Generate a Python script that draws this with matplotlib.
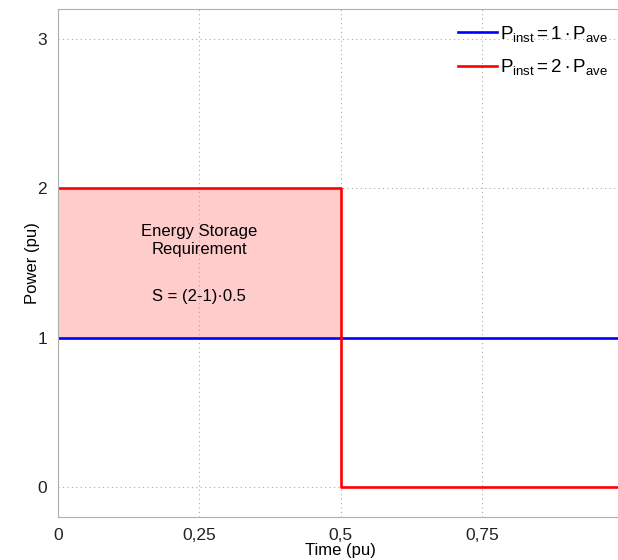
import numpy as np
import matplotlib
matplotlib.use('Agg')
import matplotlib.pyplot as plt

plt.rcParams['font.family'] = ['Liberation Sans', 'DejaVu Sans']
plt.rcParams['mathtext.fontset'] = 'custom'
plt.rcParams['mathtext.rm'] = 'Liberation Sans'
plt.rcParams['mathtext.it'] = 'Liberation Sans'

t_ave = [0, 1]
p_ave = [1, 1]
t_inst = [0, 0.5, 0.5, 1]
p_inst = [2, 2, 0, 0]
fill_t = [0, 0.5]
fill_lo = [1, 1]
fill_hi = [2, 2]

xticks = [0, 0.25, 0.5, 0.75]
xticklabels = ['0', '0,25', '0,5', '0,75']
yticks = [0, 1, 2, 3]

fig = plt.figure(figsize=(6.18, 5.6), dpi=100)
ax = fig.add_axes([58/618, 1-517/560, 565/618, 508/560])

ax.fill_between(fill_t, fill_lo, fill_hi, color='#ffcccc', lw=0)
ax.plot(t_ave, p_ave, color='#0000ff', lw=1.9,
        label=r'$\mathregular{P_{inst} = 1 \cdot P_{ave}}$')
ax.plot(t_inst, p_inst, color='#ff0000', lw=1.9,
        label=r'$\mathregular{P_{inst} = 2 \cdot P_{ave}}$')

ax.text(0.25, 1.65, 'Energy Storage\nRequirement',
        ha='center', va='center', fontsize=12, linespacing=1.2)
ax.text(0.25, 1.275, 'S = (2-1)·0.5', ha='center', va='center', fontsize=12)

ax.set_xlim(0, 1)
ax.set_ylim(-0.2, 3.2)
ax.set_xticks(xticks)
ax.set_xticklabels(xticklabels)
ax.set_yticks(yticks)
ax.tick_params(length=0, labelsize=12.5, pad=8, colors='#222222')
ax.grid(True, linestyle=(0, (1, 3)), color='#aaaaaa', lw=0.8)
for s in ax.spines.values():
    s.set_color('#b0b0b0')
ax.set_xlabel('Time (pu)', fontsize=12, labelpad=0)
ax.set_ylabel('Power (pu)', fontsize=12, labelpad=-2)

ax.legend(loc='upper right', bbox_to_anchor=(1.0, 1.0), frameon=False,
          fontsize=13.5, handlelength=2.1, labelspacing=0.7, borderaxespad=0.4,
          handletextpad=0.15)

fig.savefig('out.png', dpi=100)
